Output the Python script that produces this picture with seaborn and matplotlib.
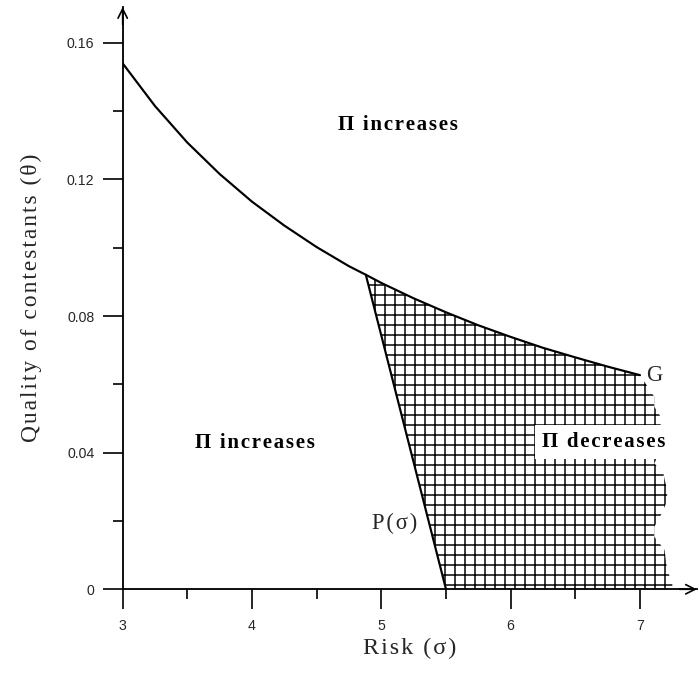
import matplotlib
matplotlib.use("Agg")
import matplotlib.pyplot as plt
import seaborn as sns

# G boundary
SIGMA_G = [3.0, 3.25, 3.5, 3.75, 4.0, 4.25, 4.5, 4.75, 4.88, 5.0, 5.25, 5.5, 5.75, 6.0, 6.25, 6.5, 6.75, 7.0]
THETA_G = [0.1540, 0.1415, 0.1308, 0.1216, 0.1135, 0.1065, 0.1002, 0.0946, 0.0921, 0.0897,
           0.0852, 0.0811, 0.0773, 0.0739, 0.0707, 0.0679, 0.0652, 0.0627]

# P(sigma) line
SIGMA_P = [4.88, 5.5]
THETA_P = [0.0921, 0.0]

# ragged right edge of the hatched area (top to bottom)
SIGMA_EDGE = [7.06, 7.11, 7.11, 7.16, 7.16, 7.11, 7.18, 7.21, 7.21, 7.17, 7.11, 7.11, 7.19, 7.21, 7.25, 7.25]
THETA_EDGE = [0.0593, 0.0564, 0.0535, 0.0505, 0.0400, 0.0369, 0.0340, 0.0290, 0.0260, 0.0223,
              0.0183, 0.0154, 0.0115, 0.0057, 0.0018, 0.0]

X_TICKS = [3, 4, 5, 6, 7]
X_MINOR = [3.5, 4.5, 5.5, 6.5]
Y_TICKS = [0, 0.04, 0.08, 0.12, 0.16]
Y_MINOR = [0.02, 0.06, 0.10, 0.14]
Y_LABELS = ["0", "0.04", "0.08", "0.12", "0.16"]

XMAX, YMAX = 7.44, 0.1705
HAIR = "\u200a"


def spaced(text: str) -> str:
    # the original uses loosely tracked type
    return HAIR.join(text)


sns.set_theme(style="white")
plt.rcParams["font.family"] = ["Liberation Serif", "DejaVu Serif"]
plt.rcParams["hatch.linewidth"] = 0.9

fig = plt.figure(figsize=(699 / 120, 675 / 120), dpi=120)
ax = fig.add_axes([0.1755, 0.127, 0.8215, 0.8626])
ax.set_xlim(3, XMAX)
ax.set_ylim(0, YMAX)

# hatched region: under G from the kink, right edge, then back along P
k = SIGMA_G.index(SIGMA_P[0])
poly_x = SIGMA_G[k:] + SIGMA_EDGE + SIGMA_P[::-1]
poly_y = THETA_G[k:] + THETA_EDGE + THETA_P[::-1]
ax.fill(poly_x, poly_y, facecolor="white", edgecolor="black", hatch="++", linewidth=0, zorder=1)

sns.lineplot(x=SIGMA_G, y=THETA_G, sort=False, color="black", linewidth=1.3, ax=ax, zorder=3)
sns.lineplot(x=SIGMA_P, y=THETA_P, sort=False, color="black", linewidth=1.3, ax=ax, zorder=3)

for side in ["top", "right"]:
    ax.spines[side].set_visible(False)
for side in ["left", "bottom"]:
    ax.spines[side].set_color("black")
    ax.spines[side].set_linewidth(1.1)

ax.set_xticks(X_TICKS)
ax.set_xticks(X_MINOR, minor=True)
ax.set_yticks(Y_TICKS)
ax.set_yticks(Y_MINOR, minor=True)
ax.set_yticklabels(Y_LABELS)
ax.tick_params(which="major", direction="out", length=12, width=1.0, color="black",
               labelsize=8.5, bottom=True, left=True)
ax.tick_params(which="minor", direction="out", length=6, width=1.0, color="black",
               bottom=True, left=True)
ax.tick_params(axis="x", pad=6)
ax.tick_params(axis="y", pad=5)
for lab in ax.get_xticklabels() + ax.get_yticklabels():
    lab.set_family(["Liberation Sans", "DejaVu Sans"])

# arrow heads
ax.annotate("", xy=(1.0, 0), xytext=(0.97, 0), xycoords="axes fraction",
            arrowprops=dict(arrowstyle="->", lw=1.0, mutation_scale=14, shrinkA=0, shrinkB=0, color="black"),
            annotation_clip=False)
ax.annotate("", xy=(0, 1.0), xytext=(0, 0.97), xycoords="axes fraction",
            arrowprops=dict(arrowstyle="->", lw=1.0, mutation_scale=14, shrinkA=0, shrinkB=0, color="black"),
            annotation_clip=False)

ax.set_xlabel(spaced("Risk (σ)"), fontsize=14.5, labelpad=3)
ax.set_ylabel(spaced("Quality of contestants (θ)"), fontsize=14, labelpad=15)

bold = dict(fontsize=12.5, fontweight="bold", color="black")
ax.text(5.13, 0.136, spaced("Π increases"), ha="center", va="center", **bold)
ax.text(4.02, 0.0429, spaced("Π increases"), ha="center", va="center", **bold)
ax.text(6.72, 0.0431, spaced("Π decreases"), ha="center", va="center", zorder=4,
        bbox=dict(facecolor="white", edgecolor="none", pad=4), **bold)
ax.text(7.05, 0.0627, "G", ha="left", va="center", fontsize=13.5)
ax.text(5.28, 0.0194, spaced("P(σ)"), ha="right", va="center", fontsize=13.5)

fig.savefig("out.png", dpi=120)
